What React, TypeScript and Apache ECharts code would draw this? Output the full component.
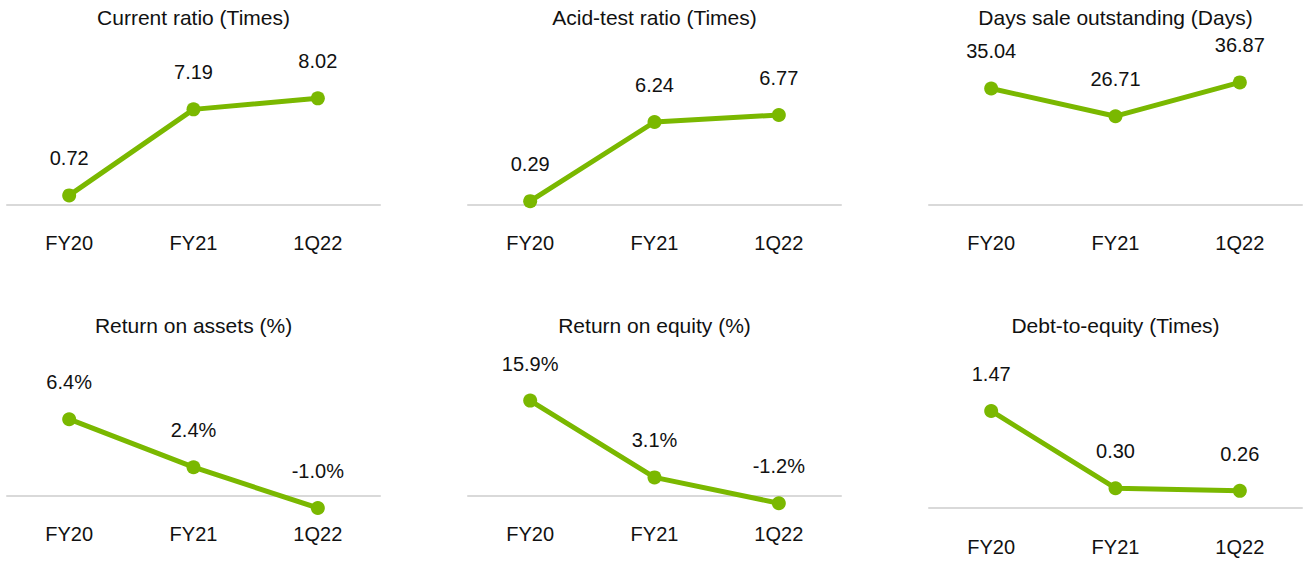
import React, { useEffect, useRef } from "react";
import * as echarts from "echarts";

const categories = ["FY20", "FY21", "1Q22"];
const titles = [
  "Current ratio (Times)",
  "Acid-test ratio (Times)",
  "Days sale outstanding (Days)",
  "Return on assets (%)",
  "Return on equity (%)",
  "Debt-to-equity (Times)",
];
const currentRatio = [0.72, 7.19, 8.02];
const acidTest = [0.29, 6.24, 6.77];
const daysSalesOutstanding = [35.04, 26.71, 36.87];
const returnOnAssets = [6.4, 2.4, -1.0];
const returnOnEquity = [15.9, 3.1, -1.2];
const debtToEquity = [1.47, 0.3, 0.26];

const seriesData = [currentRatio, acidTest, daysSalesOutstanding, returnOnAssets, returnOnEquity, debtToEquity];
const yRanges = [
  [0, 10],
  [0, 10],
  [0, 40],
  [-2, 10],
  [-4, 20],
  [0, 2],
];
const isPercent = [false, false, false, true, true, false];

const GREEN = "#7AB800";
const TEXT = "#111111";
const FONT = "'Liberation Sans', Arial, sans-serif";

export default function App() {
  const ref = useRef<HTMLDivElement>(null);
  useEffect(() => {
    if (!ref.current) return;
    const chart = echarts.init(ref.current, null, { renderer: "svg" });
    const colX = [7, 468, 929];
    const colW = 373;
    const grids = [
      { top: 72, height: 133, labelMargin: 28 },
      { top: 72, height: 133, labelMargin: 28 },
      { top: 72, height: 133, labelMargin: 28 },
      { top: 376, height: 144, labelMargin: 4 },
      { top: 376, height: 144, labelMargin: 4 },
      { top: 376, height: 132, labelMargin: 29 },
    ];
    const titleTops = [7, 7, 7, 315, 315, 315];
    const option: any = {
      animation: false,
      backgroundColor: "#ffffff",
      textStyle: { fontFamily: FONT },
      title: titles.map((t, i) => ({
        text: t,
        left: colX[i % 3] + colW / 2,
        top: titleTops[i],
        textAlign: "center",
        padding: 0,
        textStyle: { fontSize: 21, fontWeight: "normal", color: TEXT, fontFamily: FONT },
      })),
      grid: grids.map((g, i) => ({
        left: colX[i % 3],
        width: colW,
        top: g.top,
        height: g.height,
        containLabel: false,
        outerBoundsMode: "none",
      })),
      xAxis: seriesData.map((_, i) => ({
        type: "category",
        gridIndex: i,
        data: categories,
        boundaryGap: true,
        axisLine: { show: true, onZero: true, lineStyle: { color: "#d9d9d9", width: 2 } },
        axisTick: { show: false },
        axisLabel: { margin: grids[i].labelMargin, fontSize: 20, color: TEXT, fontFamily: FONT },
        splitLine: { show: false },
      })),
      yAxis: seriesData.map((_, i) => ({
        type: "value",
        gridIndex: i,
        min: yRanges[i][0],
        max: yRanges[i][1],
        show: false,
        splitLine: { show: false },
      })),
      series: seriesData.map((d, i) => ({
        type: "line",
        xAxisIndex: i,
        yAxisIndex: i,
        data: d,
        symbol: "circle",
        symbolSize: 14,
        lineStyle: { color: GREEN, width: 5 },
        itemStyle: { color: GREEN },
        label: {
          show: true,
          position: "top",
          distance: 20,
          fontSize: 20,
          color: TEXT,
          fontFamily: FONT,
          formatter: (p: any) =>
            isPercent[i] ? p.value.toFixed(1) + "%" : p.value.toFixed(2),
        },
      })),
    };
    chart.setOption(option);
    return () => chart.dispose();
  }, []);
  return (
    <div
      ref={ref}
      style={{ position: "fixed", left: 0, top: 0, width: 1303, height: 561, background: "#fff" }}
    />
  );
}
